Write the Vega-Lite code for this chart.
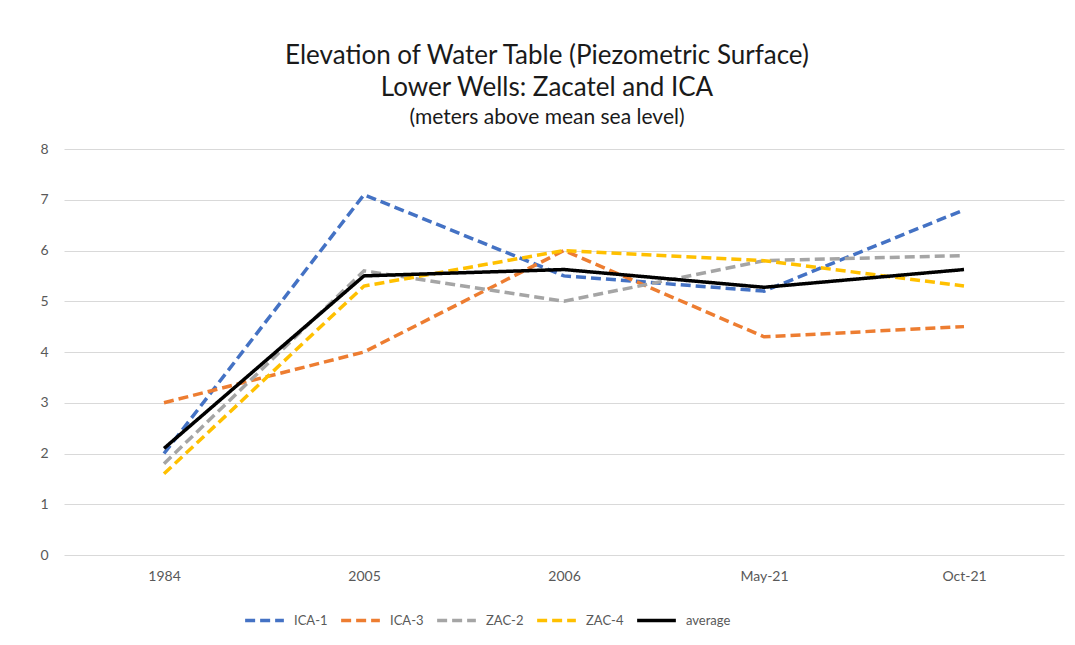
{
  "$schema": "https://vega.github.io/schema/vega-lite/v6.json",
  "autosize": "none",
  "width": 1000,
  "height": 406,
  "padding": {"left": 64, "top": 149, "right": 11, "bottom": 90},
  "background": "white",
  "title": {
    "text": ["Elevation of Water Table (Piezometric Surface)", "Lower Wells: Zacatel and ICA"],
    "subtitle": "(meters above mean sea level)",
    "anchor": "middle",
    "dx": -17,
    "offset": 14,
    "font": "Lato",
    "fontSize": 26,
    "fontWeight": "normal",
    "color": "#1a1a1a",
    "lineHeight": 32,
    "subtitleFont": "Lato",
    "subtitleFontSize": 21,
    "subtitleColor": "#1a1a1a",
    "subtitlePadding": 6
  },
  "data": {
    "values": [
      {"period": "1984", "series": "ICA-1", "value": 2.0},
      {"period": "2005", "series": "ICA-1", "value": 7.1},
      {"period": "2006", "series": "ICA-1", "value": 5.5},
      {"period": "May-21", "series": "ICA-1", "value": 5.2},
      {"period": "Oct-21", "series": "ICA-1", "value": 6.8},
      {"period": "1984", "series": "ICA-3", "value": 3.0},
      {"period": "2005", "series": "ICA-3", "value": 4.0},
      {"period": "2006", "series": "ICA-3", "value": 6.0},
      {"period": "May-21", "series": "ICA-3", "value": 4.3},
      {"period": "Oct-21", "series": "ICA-3", "value": 4.5},
      {"period": "1984", "series": "ZAC-2", "value": 1.8},
      {"period": "2005", "series": "ZAC-2", "value": 5.6},
      {"period": "2006", "series": "ZAC-2", "value": 5.0},
      {"period": "May-21", "series": "ZAC-2", "value": 5.8},
      {"period": "Oct-21", "series": "ZAC-2", "value": 5.9},
      {"period": "1984", "series": "ZAC-4", "value": 1.6},
      {"period": "2005", "series": "ZAC-4", "value": 5.3},
      {"period": "2006", "series": "ZAC-4", "value": 6.0},
      {"period": "May-21", "series": "ZAC-4", "value": 5.8},
      {"period": "Oct-21", "series": "ZAC-4", "value": 5.3},
      {"period": "1984", "series": "average", "value": 2.1},
      {"period": "2005", "series": "average", "value": 5.5},
      {"period": "2006", "series": "average", "value": 5.625},
      {"period": "May-21", "series": "average", "value": 5.275},
      {"period": "Oct-21", "series": "average", "value": 5.625}
    ]
  },
  "mark": {"type": "line", "strokeWidth": 3.5},
  "encoding": {
    "x": {
      "field": "period",
      "type": "ordinal",
      "sort": ["1984", "2005", "2006", "May-21", "Oct-21"],
      "scale": {"type": "point", "padding": 0.5},
      "axis": {
        "title": null,
        "labelAngle": 0,
        "labelFont": "Lato",
        "labelFontSize": 14,
        "labelColor": "#595959",
        "labelPadding": 14,
        "ticks": false,
        "domain": false,
        "grid": false
      }
    },
    "y": {
      "field": "value",
      "type": "quantitative",
      "scale": {"domain": [0, 8], "nice": false},
      "axis": {
        "title": null,
        "values": [0, 1, 2, 3, 4, 5, 6, 7, 8],
        "labelFont": "Lato",
        "labelFontSize": 14,
        "labelColor": "#595959",
        "labelPadding": 16,
        "ticks": false,
        "domain": false,
        "grid": true,
        "gridColor": "#d9d9d9",
        "gridWidth": 1
      }
    },
    "color": {
      "field": "series",
      "type": "nominal",
      "scale": {
        "domain": ["ICA-1", "ICA-3", "ZAC-2", "ZAC-4", "average"],
        "range": ["#4472C4", "#ED7D31", "#A5A5A5", "#FFC000", "#000000"]
      },
      "legend": {
        "title": null,
        "orient": "none",
        "legendX": 179,
        "legendY": 450,
        "direction": "horizontal",
        "columns": 5,
        "gridAlign": "none",
        "columnPadding": 6,
        "symbolType": "stroke",
        "symbolSize": 1500,
        "symbolStrokeWidth": 3.5,
        "labelFont": "Lato",
        "labelFontSize": 13,
        "labelColor": "#595959",
        "labelOffset": 8
      }
    },
    "strokeDash": {
      "field": "series",
      "type": "nominal",
      "scale": {
        "domain": ["ICA-1", "ICA-3", "ZAC-2", "ZAC-4", "average"],
        "range": [[10, 5], [10, 5], [10, 5], [10, 5], [1, 0]]
      },
      "legend": null
    }
  },
  "config": {
    "view": {"stroke": null}
  }
}
